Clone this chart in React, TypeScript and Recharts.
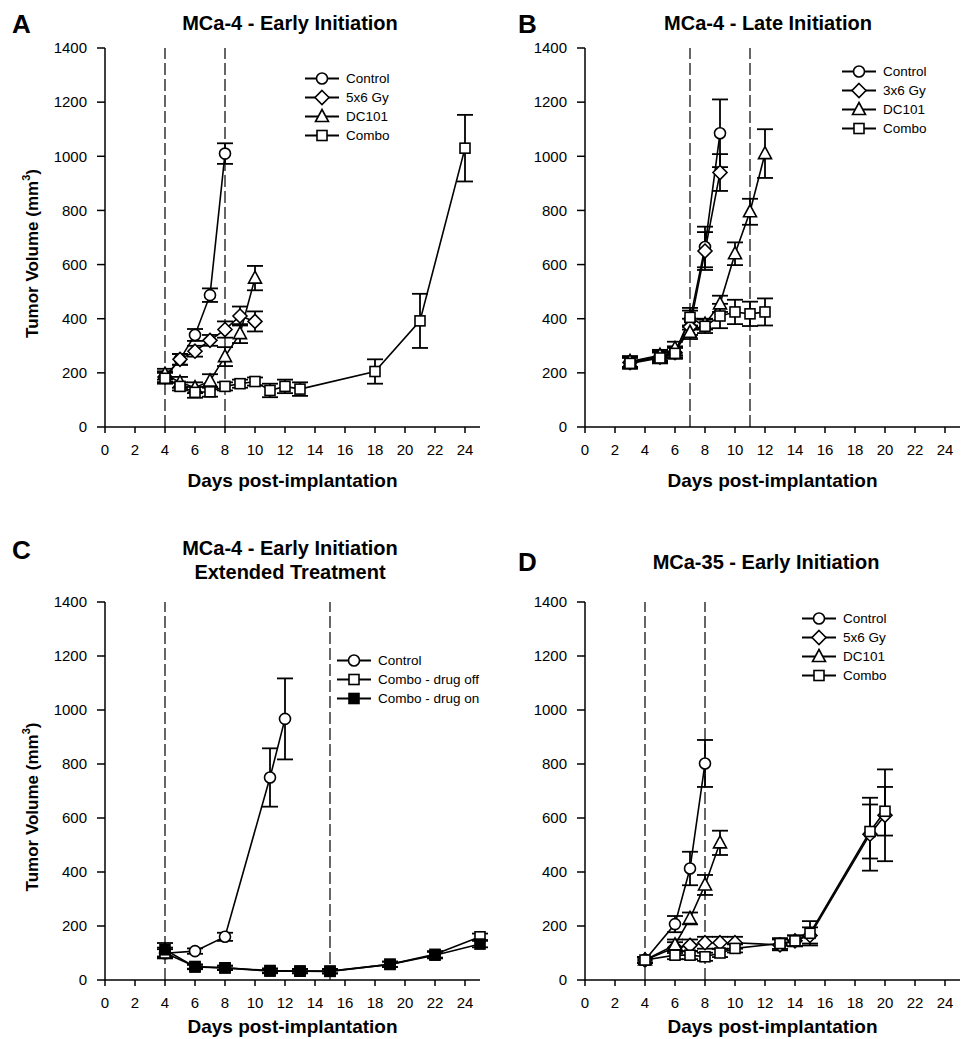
import React from 'react';
import { ErrorBar, Legend, Line, LineChart, ReferenceLine, XAxis, YAxis } from 'recharts';

const xTicks = [0, 2, 4, 6, 8, 10, 12, 14, 16, 18, 20, 22, 24];
const yTicks = [0, 200, 400, 600, 800, 1000, 1200, 1400];

// A - MCa-4 early initiation
const aControlDays = [4, 5, 6, 7, 8];
const aControlVol = [185, 250, 340, 487, 1010];
const aControlErr = [20, 20, 22, 25, 38];
const aRadDays = [4, 5, 6, 7, 8, 9, 10];
const aRadVol = [185, 250, 280, 320, 360, 410, 390];
const aRadErr = [20, 20, 20, 20, 30, 35, 37];
const aDcDays = [4, 5, 6, 7, 8, 9, 10];
const aDcVol = [195, 165, 145, 170, 260, 345, 550];
const aDcErr = [20, 20, 20, 25, 35, 35, 45];
const aComboDays = [4, 5, 6, 7, 8, 9, 10, 11, 12, 13, 18, 21, 24];
const aComboVol = [180, 150, 128, 130, 150, 160, 168, 135, 150, 140, 205, 392, 1030];
const aComboErr = [20, 15, 20, 18, 15, 15, 15, 25, 25, 25, 45, 100, 123];

// B - MCa-4 late initiation
const bControlDays = [3, 5, 6, 7, 8, 9];
const bControlVol = [240, 262, 278, 395, 665, 1085];
const bControlErr = [20, 20, 20, 35, 75, 125];
const bRadDays = [3, 5, 6, 7, 8, 9];
const bRadVol = [238, 258, 275, 370, 650, 940];
const bRadErr = [20, 20, 20, 30, 70, 68];
const bDcDays = [3, 5, 6, 7, 8, 9, 10, 11, 12];
const bDcVol = [242, 265, 290, 350, 380, 455, 640, 795, 1010];
const bDcErr = [20, 20, 25, 25, 20, 30, 42, 48, 90];
const bComboDays = [3, 5, 6, 7, 8, 9, 10, 11, 12];
const bComboVol = [235, 255, 272, 405, 372, 410, 425, 418, 425];
const bComboErr = [20, 20, 20, 35, 25, 45, 45, 45, 50];

// C - extended treatment
const cControlDays = [4, 6, 8, 11, 12];
const cControlVol = [99, 107, 160, 750, 967];
const cControlErr = [15, 10, 15, 108, 150];
const cOffDays = [4, 6, 8, 11, 13, 15, 19, 22, 25];
const cOffVol = [100, 50, 45, 35, 33, 33, 58, 95, 160];
const cOffErr = [20, 8, 8, 8, 8, 8, 10, 12, 12];
const cOnDays = [4, 6, 8, 11, 13, 15, 19, 22, 25];
const cOnVol = [112, 48, 45, 33, 33, 32, 58, 92, 133];
const cOnErr = [25, 8, 8, 8, 8, 8, 10, 12, 12];

// D - MCa-35 early initiation
const dControlDays = [4, 6, 7, 8];
const dControlVol = [74, 207, 413, 802];
const dControlErr = [10, 30, 62, 87];
const dRadDays = [4, 6, 7, 8, 9, 10, 13, 14, 15, 19, 20];
const dRadVol = [74, 120, 128, 138, 138, 138, 130, 145, 165, 540, 610];
const dRadErr = [10, 20, 22, 22, 22, 22, 20, 20, 30, 135, 170];
const dDcDays = [4, 6, 7, 8, 9];
const dDcVol = [74, 130, 228, 352, 508];
const dDcErr = [10, 20, 22, 37, 45];
const dComboDays = [4, 6, 7, 8, 9, 10, 13, 14, 15, 19, 20];
const dComboVol = [74, 92, 92, 86, 100, 117, 135, 145, 173, 550, 625];
const dComboErr = [10, 15, 15, 15, 15, 15, 20, 20, 45, 100, 90];

type Shape = 'circle' | 'diamond' | 'triangle' | 'square';

interface Series {
  name: string;
  shape: Shape;
  filled?: boolean;
  rows: { day: number; vol: number; err: number }[];
}

const toRows = (days: number[], vol: number[], err: number[]) =>
  days.map((day, i) => ({ day, vol: vol[i], err: err[i] }));

const Marker = ({ cx, cy, shape, filled }: { cx: number; cy: number; shape: Shape; filled?: boolean }) => {
  const style = { fill: filled ? '#000' : '#fff', stroke: '#000', strokeWidth: 1.6 };
  if (shape === 'circle') return <circle cx={cx} cy={cy} r={5.5} {...style} />;
  if (shape === 'square') return <rect x={cx - 5} y={cy - 5} width={10} height={10} {...style} />;
  if (shape === 'diamond')
    return <polygon points={`${cx},${cy - 7} ${cx + 7},${cy} ${cx},${cy + 7} ${cx - 7},${cy}`} {...style} />;
  return <polygon points={`${cx},${cy - 7} ${cx + 6.5},${cy + 5} ${cx - 6.5},${cy + 5}`} {...style} />;
};

const YLabel = ({ viewBox }: any) => {
  const cx = viewBox.x + 32;
  const cy = viewBox.y + viewBox.height / 2 + 16;
  return (
    <text x={cx} y={cy} transform={`rotate(-90 ${cx} ${cy})`} textAnchor="middle" dominantBaseline="central"
      fontSize={17} fontWeight="bold" fill="#000">
      Tumor Volume (mm<tspan dy={-6} fontSize={11}>3</tspan><tspan dy={6}>)</tspan>
    </text>
  );
};

const makeXLabel = (gap: number) => ({ viewBox }: any) => (
  <text x={viewBox.x + viewBox.width / 2} y={viewBox.y + gap} textAnchor="middle" dominantBaseline="central"
    fontSize={19} fontWeight="bold" fill="#000">
    Days post-implantation
  </text>
);
const XLabelTop = makeXLabel(53);
const XLabelBottom = makeXLabel(46);

const legendContent = (series: Series[]) => () => (
  <div>
    {series.map((s) => (
      <div key={s.name} style={{ display: 'flex', alignItems: 'center', height: 19 }}>
        <svg width={34} height={19}>
          <line x1={0} y1={9.5} x2={34} y2={9.5} stroke="#000" strokeWidth={2} />
          <Marker cx={17} cy={9.5} shape={s.shape} filled={s.filled} />
        </svg>
        <span style={{ marginLeft: 7, fontSize: 13.5, color: '#000', whiteSpace: 'nowrap' }}>{s.name}</span>
      </div>
    ))}
  </div>
);

interface PanelProps {
  left: number;
  top: number;
  height: number;
  series: Series[];
  refDays: number[];
  legendPos: { left: number; top: number };
  yLabel?: boolean;
  bottomRow?: boolean;
}

const Panel = ({ left, top, height, series, refDays, legendPos, yLabel, bottomRow }: PanelProps) => (
  <div style={{ position: 'absolute', left, top }}>
    <LineChart width={490} height={height} margin={{ top: 48, right: 10, left: 0, bottom: 0 }}>
      <XAxis type="number" dataKey="day" domain={[0, 25]} ticks={xTicks} height={83}
        tick={{ fill: '#000', fontSize: 15 }} tickSize={6} tickMargin={11}
        axisLine={{ stroke: '#000', strokeWidth: 1.5 }} tickLine={{ stroke: '#000', strokeWidth: 1.5 }}
        label={bottomRow ? <XLabelBottom /> : <XLabelTop />} />
      <YAxis type="number" domain={[0, 1400]} ticks={yTicks} width={105}
        tick={{ fill: '#000', fontSize: 15 }} tickSize={8} tickMargin={10}
        axisLine={{ stroke: '#000', strokeWidth: 1.5 }} tickLine={{ stroke: '#000', strokeWidth: 1.5 }}
        label={yLabel ? <YLabel /> : undefined} />
      {refDays.map((d) => (
        <ReferenceLine key={d} x={d} stroke="#000" strokeWidth={1.2} strokeDasharray="12 4" />
      ))}
      {series.map((s) => (
        <Line key={s.name} data={s.rows} dataKey="vol" name={s.name} stroke="#000" strokeWidth={1.6}
          isAnimationActive={false} activeDot={false} legendType="none"
          dot={(p: any) => (
            <Marker key={`${s.name}-${p.index}`} cx={p.cx} cy={p.cy} shape={s.shape} filled={s.filled} />
          )}>
          <ErrorBar dataKey="err" width={8} stroke="#000" strokeWidth={1.8} direction="y" />
        </Line>
      ))}
      <Legend layout="vertical" align="center" verticalAlign="middle" content={legendContent(series)}
        wrapperStyle={{ left: legendPos.left, top: legendPos.top, width: 'auto', height: 'auto' }} />
    </LineChart>
  </div>
);

const seriesA: Series[] = [
  { name: 'Control', shape: 'circle', rows: toRows(aControlDays, aControlVol, aControlErr) },
  { name: '5x6 Gy', shape: 'diamond', rows: toRows(aRadDays, aRadVol, aRadErr) },
  { name: 'DC101', shape: 'triangle', rows: toRows(aDcDays, aDcVol, aDcErr) },
  { name: 'Combo', shape: 'square', rows: toRows(aComboDays, aComboVol, aComboErr) },
];
const seriesB: Series[] = [
  { name: 'Control', shape: 'circle', rows: toRows(bControlDays, bControlVol, bControlErr) },
  { name: '3x6 Gy', shape: 'diamond', rows: toRows(bRadDays, bRadVol, bRadErr) },
  { name: 'DC101', shape: 'triangle', rows: toRows(bDcDays, bDcVol, bDcErr) },
  { name: 'Combo', shape: 'square', rows: toRows(bComboDays, bComboVol, bComboErr) },
];
const seriesC: Series[] = [
  { name: 'Control', shape: 'circle', rows: toRows(cControlDays, cControlVol, cControlErr) },
  { name: 'Combo - drug off', shape: 'square', rows: toRows(cOffDays, cOffVol, cOffErr) },
  { name: 'Combo - drug on', shape: 'square', filled: true, rows: toRows(cOnDays, cOnVol, cOnErr) },
];
const seriesD: Series[] = [
  { name: 'Control', shape: 'circle', rows: toRows(dControlDays, dControlVol, dControlErr) },
  { name: '5x6 Gy', shape: 'diamond', rows: toRows(dRadDays, dRadVol, dRadErr) },
  { name: 'DC101', shape: 'triangle', rows: toRows(dDcDays, dDcVol, dDcErr) },
  { name: 'Combo', shape: 'square', rows: toRows(dComboDays, dComboVol, dComboErr) },
];

const textAt = (left: number, top: number, size: number, text: string, width?: number) => (
  <div style={{
    position: 'absolute', left, top: top - size / 2, fontSize: size, lineHeight: `${size}px`,
    fontWeight: 'bold', whiteSpace: 'nowrap', width, textAlign: width ? 'center' : 'left',
  }}>{text}</div>
);

export default function App() {
  return (
    <div style={{
      position: 'absolute', left: 0, top: 0, width: 972, height: 1039, background: '#fff', color: '#000',
      fontFamily: '"Liberation Sans", Arial, Helvetica, sans-serif',
    }}>
      <Panel left={0} top={0} height={510} series={seriesA} refDays={[4, 8]} legendPos={{ left: 305, top: 69 }} yLabel />
      <Panel left={480} top={0} height={510} series={seriesB} refDays={[7, 11]} legendPos={{ left: 362, top: 62 }} />
      <Panel left={0} top={554} height={509} series={seriesC} refDays={[4, 15]} legendPos={{ left: 337, top: 97 }}
        yLabel bottomRow />
      <Panel left={480} top={554} height={509} series={seriesD} refDays={[4, 8]} legendPos={{ left: 322, top: 55 }}
        bottomRow />

      {textAt(12, 24, 26, 'A')}
      {textAt(518, 24, 26, 'B')}
      {textAt(12, 550, 26, 'C')}
      {textAt(518, 562, 26, 'D')}
      {textAt(140, 23, 20, 'MCa-4 - Early Initiation', 300)}
      {textAt(618, 23, 20, 'MCa-4 - Late Initiation', 300)}
      {textAt(140, 548, 20, 'MCa-4 - Early Initiation', 300)}
      {textAt(140, 572, 20, 'Extended Treatment', 300)}
      {textAt(616, 562, 20, 'MCa-35 - Early Initiation', 300)}
    </div>
  );
}
